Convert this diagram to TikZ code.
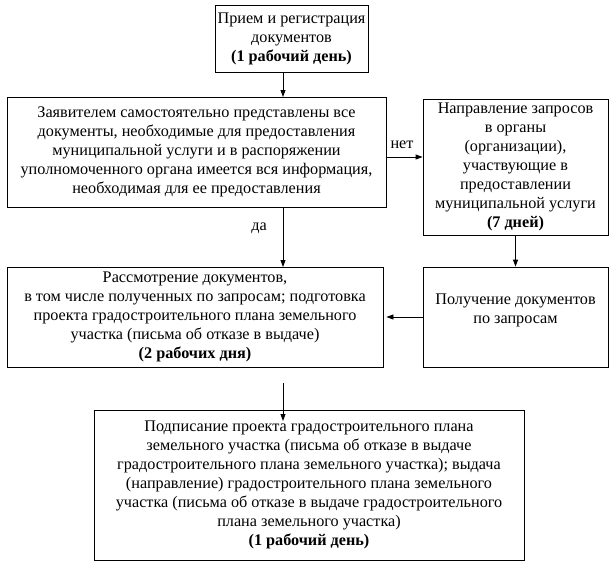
\documentclass[tikz,border=0pt]{standalone}
\usepackage{fontspec}
\setmainfont{Liberation Serif}
\usetikzlibrary{arrows.meta}
\begin{document}
\begin{tikzpicture}[x=1pt,y=1pt,
  box/.style={draw, line width=0.8pt, align=center, inner sep=0pt, font=\fontsize{16.2}{19}\selectfont},
  arr/.style={line width=0.8pt, -{Triangle[length=7pt,width=5pt]}},
  lbl/.style={font=\fontsize{16.2}{19}\selectfont, inner sep=0pt}]
\useasboundingbox (0,0) rectangle (615,-571);
\node[box, minimum width=153, minimum height=67] (b1) at (291.5,-38.5)
  {Прием и регистрация\\документов\\\textbf{(1 рабочий день)}};
\node[box, minimum width=379, minimum height=110] (b2) at (196.5,-152)
  {Заявителем самостоятельно представлены все\\документы, необходимые для предоставления\\муниципальной услуги и в распоряжении\\уполномоченного органа имеется вся информация,\\необходимая для ее предоставления};
\node[box, minimum width=185, minimum height=136] (b3) at (515.5,-167)
  {Направление запросов\\в органы\\(организации),\\участвующие в\\предоставлении\\муниципальной услуги\\\textbf{(7 дней)}};
\node[box, minimum width=376, minimum height=100] (b4) at (195,-317)
  {Рассмотрение документов,\\в том числе полученных по запросам; подготовка\\проекта градостроительного плана земельного\\участка (письма об отказе в выдаче)\\\textbf{(2 рабочих дня)}};
\node[box, minimum width=185, minimum height=100] (b5) at (515.5,-317)
  {Получение документов\\по запросам\\[-2pt]};
\node[box, minimum width=430, minimum height=150] (b6) at (309,-485)
  {Подписание проекта градостроительного плана\\земельного участка (письма об отказе в выдаче\\градостроительного плана земельного участка); выдача\\(направление) градостроительного плана земельного\\участка (письма об отказе в выдаче градостроительного\\плана земельного участка)\\\textbf{(1 рабочий день)}};
\coordinate (c1) at (283,-72);
\coordinate (c2) at (283,-97);
\coordinate (c3) at (283,-207);
\coordinate (c4) at (283,-267);
\coordinate (c5) at (283,-383);
\coordinate (c6) at (283,-421);
\draw[arr] (c1) -- (c2);
\draw[arr] (c3) -- (c4);
\draw[arr] (c5) -- (c6);
\draw[arr] (b2.east |- 0,-157) -- (b3.west |- 0,-157);
\draw[arr] (b3.south) -- (b5.north);
\draw[arr] (b5.west) -- ([xshift=3pt]b4.east);
\node[lbl] (net) at (402,-145) {нет};
\node[lbl, anchor=east] (da) at (267,-228) {да};
\end{tikzpicture}
\end{document}
